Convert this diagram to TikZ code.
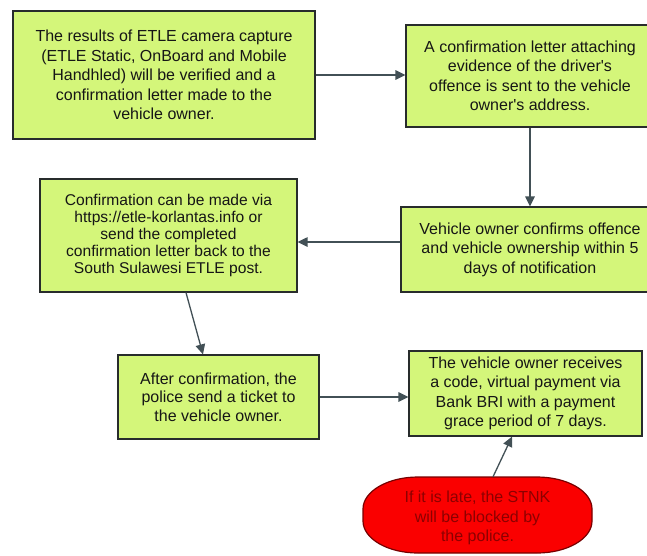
\documentclass[tikz,border=0pt]{standalone}
\usepackage{fontspec}
\setmainfont{Liberation Sans}
\usetikzlibrary{arrows.meta}
\definecolor{boxfill}{RGB}{212,246,122}
\definecolor{boxline}{RGB}{40,44,44}
\definecolor{txt}{RGB}{22,22,22}
\definecolor{arr}{RGB}{66,80,86}
\definecolor{redfill}{RGB}{250,0,0}
\definecolor{redline}{RGB}{120,0,0}
\definecolor{redtxt}{RGB}{140,0,0}
\tikzset{
  stepbox/.style={draw=boxline, fill=boxfill, line width=1.2pt, inner sep=0pt,
    align=center, text=txt, font=\fontsize{16}{19.5}\selectfont},
  endbox/.style={draw=none, inner sep=0pt,
    align=center, text=redtxt, font=\fontsize{16}{19.5}\selectfont},
  redshape/.style={draw=redline, fill=redfill, line width=1.2pt},
  flow/.style={draw=arr, line width=1.3pt, -{Triangle[length=10pt,width=9.5pt]}}
}
\begin{document}
\begin{tikzpicture}[x=1pt,y=-1pt]
\useasboundingbox[fill=white] (0,0) rectangle (647,555);
\node[stepbox, minimum width=302pt, minimum height=128pt] (b1) at (164,75)
  {The results of ETLE camera capture\\(ETLE Static, OnBoard and Mobile\\Handhled) will be verified and a\\confirmation letter made to the\\vehicle owner.};
\node[stepbox, minimum width=248pt, minimum height=102pt] (b2) at (530,76)
  {A confirmation letter attaching\\evidence of the driver\textquotesingle s\\offence is sent to the vehicle\\owner\textquotesingle s address.};
\node[stepbox, minimum width=258pt, minimum height=85pt] (b3) at (530,249.5)
  {Vehicle owner confirms offence\\and vehicle ownership within 5\\days of notification};
\node[stepbox, minimum width=257pt, minimum height=113pt, font=\fontsize{15.6}{16.8}\selectfont] (b4) at (168.5,235.5)
  {Confirmation can be made via\\https://etle-korlantas.info or\\send the completed\\confirmation letter back to the\\South Sulawesi ETLE post.};
\node[stepbox, minimum width=201pt, minimum height=84pt, font=\fontsize{16}{18.5}\selectfont] (b5) at (218.5,397)
  {After confirmation, the\\police send a ticket to\\the vehicle owner.};
\node[stepbox, minimum width=233pt, minimum height=85pt] (b6) at (525.5,393.5)
  {The vehicle owner receives\\a code, virtual payment via\\Bank BRI with a payment\\grace period of 7 days.};
\path[redshape] (418,477) -- (537,477)
  arc[start angle=-90, end angle=0, x radius=55, y radius=32] -- (592,521)
  arc[start angle=0, end angle=90, x radius=55, y radius=32] -- (418,553)
  arc[start angle=90, end angle=180, x radius=55, y radius=32] -- (363,509)
  arc[start angle=180, end angle=270, x radius=55, y radius=32] -- cycle;
\node[endbox, minimum width=229pt, minimum height=76pt] (r) at (477.5,518)
  {If it is late, the STNK\\will be blocked by\\the police.};
\draw[flow] (b1.east) -- (b1.east -| b2.west);
\draw[flow] (b2.south) -- (b3.north);
\draw[flow] ([yshift=7.5pt]b3.west) -- ([yshift=7.5pt]b3.west -| b4.east);
\draw[flow] ([xshift=17.5pt]b4.south) -- ([xshift=-15.5pt]b5.north);
\draw[flow] (b5.east) -- (b5.east -| b6.west);
\draw[flow] ([xshift=15.5pt,yshift=3pt]r.north) -- ([xshift=-13.5pt]b6.south);
\end{tikzpicture}
\end{document}
